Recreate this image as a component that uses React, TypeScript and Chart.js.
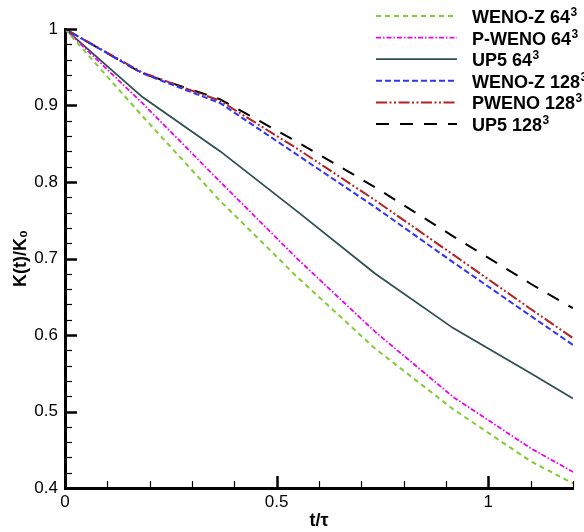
import React, { useEffect, useRef } from 'react';
import { Chart, registerables } from 'chart.js';

Chart.register(...registerables);

// ---- data ----
const times = [0, 0.183, 0.367, 0.55, 0.733, 0.917, 1.1, 1.2];
const wenoZ64 = [1, 0.886, 0.775, 0.675, 0.582, 0.503, 0.435, 0.406];
const pWeno64 = [1, 0.903, 0.8, 0.699, 0.604, 0.519, 0.452, 0.421];
const up5_64 = [1, 0.911, 0.84, 0.761, 0.68, 0.609, 0.55, 0.517];
const wenoZ128 = [1, 0.942, 0.903, 0.835, 0.767, 0.695, 0.625, 0.587];
const pWeno128 = [1, 0.943, 0.906, 0.843, 0.776, 0.705, 0.634, 0.596];
const up5_128 = [1, 0.942, 0.908, 0.852, 0.793, 0.729, 0.667, 0.635];

const seriesLabels = ['WENO-Z 64³', 'P-WENO 64³', 'UP5 64³', 'WENO-Z 128³', 'PWENO 128³', 'UP5 128³'];

const xMin = 0;
const xMax = 1.2;
const xMajorStep = 0.5;
const xMinorStep = 0.1;
const yMin = 0.4;
const yMax = 1;
const yMajorStep = 0.1;
const yMinorStep = 0.02;

const FONT = '"Liberation Sans", Arial, Helvetica, sans-serif';

const toPoints = (vals: number[]) => vals.map((v, i) => ({ x: times[i], y: v }));

const inwardTicks = {
  id: 'inwardTicks',
  afterDatasetsDraw(chart: any) {
    const { ctx, chartArea, scales } = chart;
    const x = scales.x;
    const y = scales.y;
    ctx.save();
    ctx.strokeStyle = '#000';
    const nx = Math.round((xMax - xMin) / xMinorStep);
    const perMajorX = Math.round(xMajorStep / xMinorStep);
    for (let i = 0; i <= nx; i++) {
      const v = xMin + i * xMinorStep;
      const px = Math.round(x.getPixelForValue(v)) + 0.5;
      const major = i % perMajorX === 0;
      ctx.lineWidth = major ? 2.5 : 1.2;
      const len = major ? 12 : 7;
      ctx.beginPath();
      ctx.moveTo(px, chartArea.bottom);
      ctx.lineTo(px, chartArea.bottom - len);
      ctx.stroke();
    }
    const ny = Math.round((yMax - yMin) / yMinorStep);
    const perMajorY = Math.round(yMajorStep / yMinorStep);
    for (let i = 0; i <= ny; i++) {
      const v = yMin + i * yMinorStep;
      const py = Math.round(y.getPixelForValue(v)) + 0.5;
      const major = i % perMajorY === 0;
      ctx.lineWidth = major ? 2.5 : 1.2;
      const len = major ? 12 : 7;
      ctx.beginPath();
      ctx.moveTo(chartArea.left, py);
      ctx.lineTo(chartArea.left + len, py);
      ctx.stroke();
    }
    ctx.restore();
  },
};

const customLegend = {
  id: 'customLegend',
  afterDraw(chart: any) {
    const { ctx } = chart;
    ctx.save();
    chart.data.datasets.forEach((ds: any, i: number) => {
      const yy = 16 + i * 21.6;
      ctx.beginPath();
      ctx.setLineDash(ds.borderDash || []);
      ctx.lineWidth = ds.borderWidth;
      ctx.strokeStyle = ds.borderColor;
      ctx.moveTo(376, yy);
      ctx.lineTo(457, yy);
      ctx.stroke();
      ctx.setLineDash([]);
      ctx.fillStyle = '#000';
      ctx.textBaseline = 'alphabetic';
      ctx.textAlign = 'left';
      const label: string = ds.label;
      const base = label.replace('³', '');
      const hasSup = label.includes('³');
      ctx.font = `bold 18px ${FONT}`;
      const baseline = yy + 7;
      ctx.fillText(base, 472, baseline);
      if (hasSup) {
        const w = ctx.measureText(base).width;
        ctx.font = `bold 12px ${FONT}`;
        ctx.fillText('3', 472 + w + 0.5, baseline - 7);
      }
    });
    ctx.restore();
  },
};

export default function App() {
  const canvasRef = useRef<HTMLCanvasElement | null>(null);

  useEffect(() => {
    if (!canvasRef.current) return;
    const common = { pointRadius: 0, fill: false, tension: 0 };
    const chart = new Chart(canvasRef.current, {
      type: 'line',
      data: {
        datasets: [
          { ...common, label: seriesLabels[0], data: toPoints(wenoZ64), borderColor: '#80cc33', borderWidth: 2, borderDash: [5, 4] },
          { ...common, label: seriesLabels[1], data: toPoints(pWeno64), borderColor: '#ee00ee', borderWidth: 1.8, borderDash: [5, 2, 1.5, 2] },
          { ...common, label: seriesLabels[2], data: toPoints(up5_64), borderColor: '#2f4f4f', borderWidth: 1.8, borderDash: [] },
          { ...common, label: seriesLabels[3], data: toPoints(wenoZ128), borderColor: '#3232ff', borderWidth: 2, borderDash: [6, 3] },
          { ...common, label: seriesLabels[4], data: toPoints(pWeno128), borderColor: '#b22222', borderWidth: 2, borderDash: [11, 2.5, 2, 2.5, 2, 2.5] },
          { ...common, label: seriesLabels[5], data: toPoints(up5_128), borderColor: '#000000', borderWidth: 2, borderDash: [13, 11] },
        ],
      },
      options: {
        responsive: false,
        animation: false,
        layout: { padding: { top: 29, right: 11, bottom: 0, left: 0 } },
        plugins: { legend: { display: false }, tooltip: { enabled: false } },
        scales: {
          x: {
            type: 'linear',
            min: xMin,
            max: xMax,
            grid: { display: false, drawTicks: false },
            border: { display: true, color: '#000', width: 3 },
            ticks: {
              stepSize: xMajorStep,
              includeBounds: false,
              padding: 4,
              color: '#000',
              font: { family: FONT, size: 17 },
              callback: (v: any) => String(Number(Number(v).toFixed(2))),
              maxRotation: 0,
            },
            title: {
              display: true,
              text: 't/τ',
              color: '#000',
              font: { family: FONT, size: 18, weight: 'bold' },
              padding: { top: 0, bottom: 0 },
            },
            afterFit: (s: any) => { s.height = 44; },
          },
          y: {
            type: 'linear',
            min: yMin,
            max: yMax,
            grid: { display: false, drawTicks: false },
            border: { display: true, color: '#000', width: 3 },
            ticks: {
              stepSize: yMajorStep,
              padding: 7,
              color: '#000',
              font: { family: FONT, size: 17 },
              callback: (v: any) => String(Number(Number(v).toFixed(2))),
            },
            title: {
              display: true,
              text: 'K(t)/K₀',
              color: '#000',
              font: { family: FONT, size: 18, weight: 'bold' },
              padding: { top: 10, bottom: 0 },
            },
            afterFit: (s: any) => { s.width = 65; },
          },
        },
      },
      plugins: [inwardTicks, customLegend],
    } as any);
    return () => chart.destroy();
  }, []);

  return (
    <div style={{ position: 'absolute', left: 0, top: 0, width: 584, height: 532, background: '#fff' }}>
      <canvas ref={canvasRef} width={584} height={532} style={{ display: 'block' }} />
    </div>
  );
}
